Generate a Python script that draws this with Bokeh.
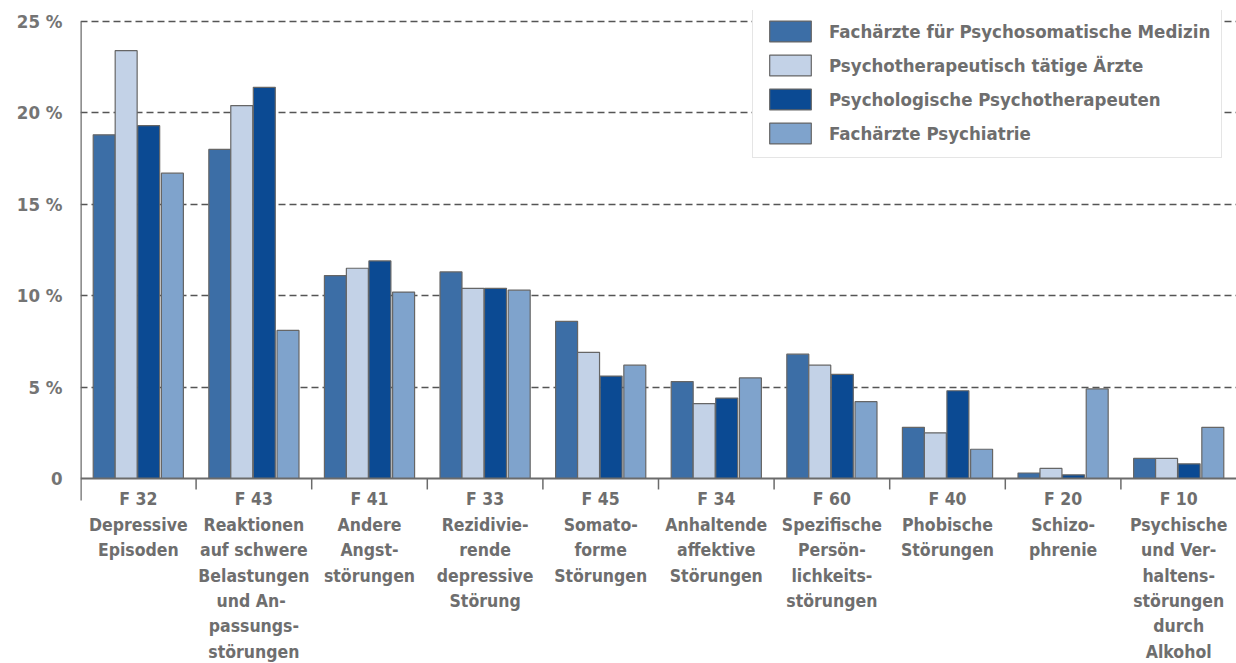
from bokeh.plotting import figure
from bokeh.models import (FactorRange, Range1d, FixedTicker, Legend, LegendItem,
                          ColumnDataSource)
from bokeh.transform import dodge
from bokeh.core.properties import value
from bokeh.embed import file_html
from bokeh.resources import INLINE

# ---------------- data ----------------
codes = ["F 32", "F 43", "F 41", "F 33", "F 45", "F 34", "F 60", "F 40", "F 20", "F 10"]
names = [
    "Depressive\nEpisoden",
    "Reaktionen\nauf schwere\nBelastungen\nund  An-\npassungs-\nstörungen",
    "Andere\nAngst-\nstörungen",
    "Rezidivie-\nrende\ndepressive\nStörung",
    "Somato-\nforme\nStörungen",
    "Anhaltende\naffektive\nStörungen",
    "Spezifische\nPersön-\nlichkeits-\nstörungen",
    "Phobische\nStörungen",
    "Schizo-\nphrenie",
    "Psychische\nund Ver-\nhaltens-\nstörungen\ndurch\nAlkohol",
]
series_names = [
    "Fachärzte für Psychosomatische Medizin",
    "Psychotherapeutisch tätige Ärzte",
    "Psychologische Psychotherapeuten",
    "Fachärzte Psychiatrie",
]
psychosomatik = [18.8, 18.0, 11.1, 11.3, 8.6, 5.3, 6.8, 2.8, 0.3, 1.1]
psychoth_aerzte = [23.4, 20.4, 11.5, 10.4, 6.9, 4.1, 6.2, 2.5, 0.55, 1.1]
psychologen = [19.3, 21.4, 11.9, 10.4, 5.6, 4.4, 5.7, 4.8, 0.2, 0.8]
psychiatrie = [16.7, 8.1, 10.2, 10.3, 6.2, 5.5, 4.2, 1.6, 4.9, 2.8]
y_ticks = [0, 5, 10, 15, 20, 25]
y_tick_labels = ["0", "5 %", "10 %", "15 %", "20 %", "25 %"]

# ---------------- style ----------------
FONT = "DejaVu Sans Condensed"
TXT = "#6e6e6e"
colors = ["#3c6ea6", "#c3d2e7", "#0b4a93", "#7fa3cc"]
offsets = [-0.295, -0.105, 0.09, 0.295]
bar_w = 0.19

src = ColumnDataSource(dict(cat=codes, labels=[c + "\n" + n for c, n in zip(codes, names)],
                            s0=psychosomatik, s1=psychoth_aerzte, s2=psychologen, s3=psychiatrie))

p = figure(width=1236, height=663, output_backend="svg", toolbar_location=None,
           x_range=FactorRange(factors=codes, range_padding=0),
           y_range=Range1d(-10.12, 25.6), x_axis_location=None,
           min_border_left=80, min_border_right=0, min_border_top=10, min_border_bottom=0)
p.outline_line_color = None
p.background_fill_color = "white"
p.border_fill_color = "white"

# y axis
p.yaxis.ticker = FixedTicker(ticks=y_ticks)
p.yaxis.major_label_overrides = {t: l for t, l in zip(y_ticks, y_tick_labels)}
p.yaxis.axis_line_color = None
p.yaxis.major_tick_line_color = None
p.yaxis.minor_tick_line_color = None
p.yaxis.major_label_standoff = 12
p.yaxis.major_label_text_font = FONT
p.yaxis.major_label_text_font_style = "bold"
p.yaxis.major_label_text_font_size = "18.5px"
p.yaxis.major_label_text_color = "#747474"

p.ygrid.ticker = FixedTicker(ticks=y_ticks[1:])
p.ygrid.grid_line_color = "#555555"
p.ygrid.grid_line_dash = "7 4"
p.ygrid.grid_line_width = 1.5
p.xgrid.visible = False

renderers = []
cols = ["s0", "s1", "s2", "s3"]
for col, off, c in zip(cols, offsets, colors):
    r = p.vbar(x=dodge("cat", off, range=p.x_range), top=col, bottom=0, width=bar_w,
               source=src, fill_color=c, line_color="#666666", line_width=1.2)
    renderers.append(r)

n = len(codes)
# axis lines and ticks
p.segment(x0=[0], y0=[0], x1=[n], y1=[0], line_color="#6b6b6b", line_width=2)
p.segment(x0=[0], y0=[-1.2], x1=[0], y1=[25], line_color="#6b6b6b", line_width=2.5)
p.segment(x0=list(range(1, n)), y0=[0] * (n - 1), x1=list(range(1, n)), y1=[-0.6] * (n - 1),
          line_color="#6b6b6b", line_width=1.5)

# category labels
p.text(x="cat", y=-0.6, text="labels", source=src, text_align="center", text_baseline="top",
       text_font=value(FONT), text_font_style="bold", text_font_size="17.5px",
       text_color=TXT, text_line_height=1.27)

legend = Legend(items=[LegendItem(label=s, renderers=[r]) for s, r in zip(series_names, renderers)],
                location=(672, 505), orientation="vertical")
legend.glyph_width = 52
legend.glyph_height = 26
legend.spacing = 8
legend.padding = 11
legend.margin = 0
legend.label_standoff = 13
legend.label_text_font = FONT
legend.label_text_font_style = "bold"
legend.label_text_font_size = "18.5px"
legend.label_text_color = TXT
legend.border_line_color = "#cccccc"
legend.border_line_width = 1.5
legend.background_fill_color = "white"
legend.background_fill_alpha = 1
p.add_layout(legend)

open("out.html", "w").write(file_html(p, INLINE))
